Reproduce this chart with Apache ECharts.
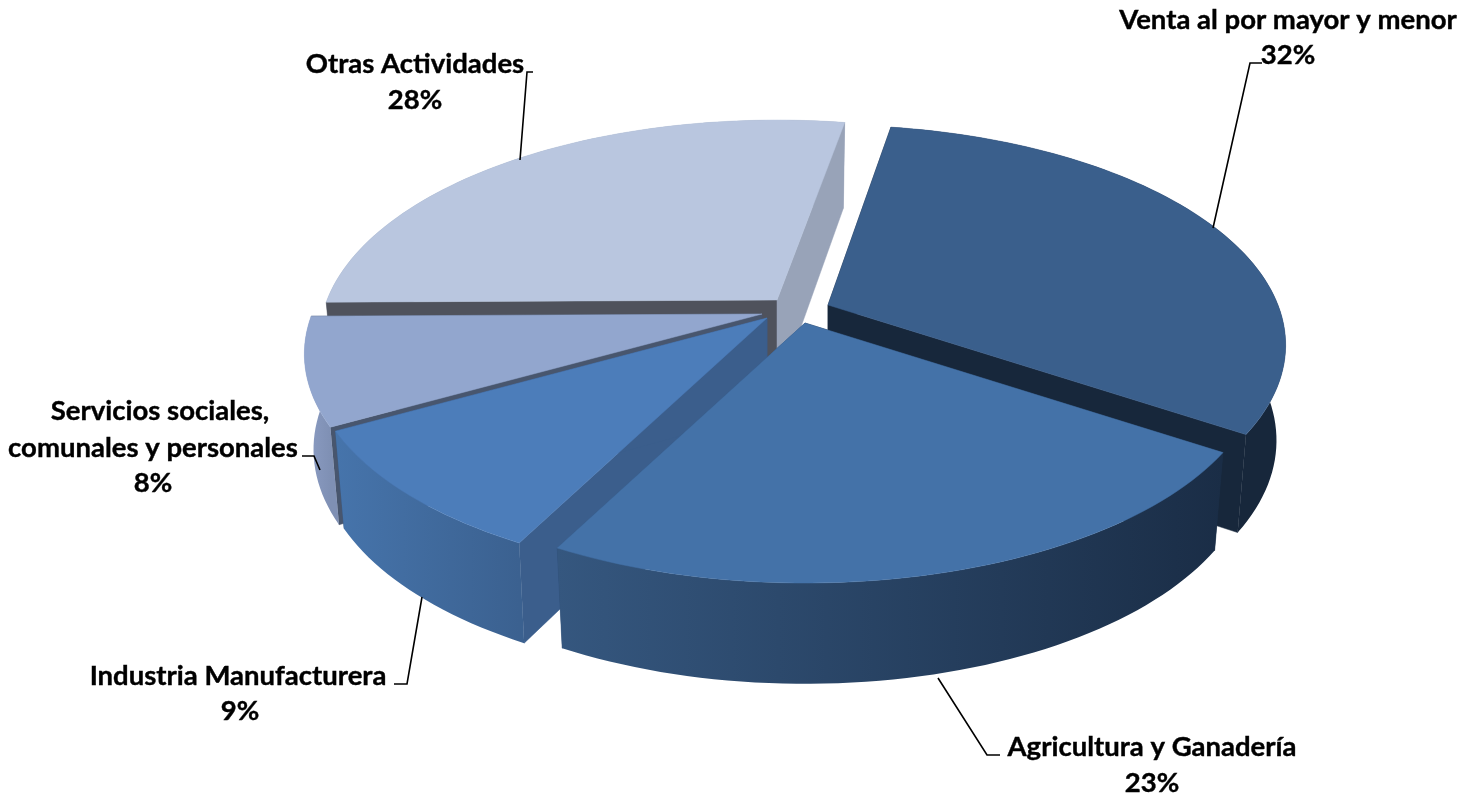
<!DOCTYPE html>
<html><head><meta charset="utf-8">
<style>html,body{margin:0;padding:0;background:#fff}#c{width:1461px;height:795px}</style>
<script src="https://cdn.jsdelivr.net/npm/echarts@6/dist/echarts.min.js"></script>
</head><body><div id="c"></div>
<script>
// data (clockwise from the start angle)
const categories = ['Venta al por mayor y menor','Agricultura y Ganadería','Industria Manufacturera','Servicios sociales, comunales y personales','Otras Actividades'];
const shares = [31.6, 23.4, 9.3, 7.9, 28.0];
// styling
const topColors = ['#3a5f8c','#4472a8','#4c7dba','#92a6ce','#b9c6df'];
const wallColors = [['#17273b','#17273b'],['#35577f','#1a2d46'],['#4674ab','#3b6190'],['#8c9dc4','#7f90b4'],['#98a3b8','#98a3b8']];
const sideStart = ['#17273b','#1b2e47','#3b5e8c','#48566e','#4f525c'];
const sideEnd = ['#17273b','#2f4f78','#3b5e8c','#48566e','#98a3b8'];
// layout
const drawOrder = [4,0,3,2,1];
const START = 9.5, R = 450, RY = 212.7, K = 0.182, SHRINK = 0.98, DEPTH = 94, DEPTH_K = 12;
const apex = [[828,305],[805,323],[767,318],[762,314],[777,300]];
const labelLines = [
  [['Venta al por mayor y menor',1288,20],['%',1288,55]],
  [['Agricultura y Ganadería',1152,747],['%',1152,783]],
  [['Industria Manufacturera',238,676],['%',240,711]],
  [['Servicios sociales,',160,411],['comunales y personales',153,448],['%',153,483]],
  [['Otras Actividades',415,64],['%',415,100]]
];
const leaders = [
  [[1213,228],[1250,63],[1262,63]],
  [[938,678],[987,755],[1000,755]],
  [[422,597],[407,684],[394,684]],
  [[302,456],[314,456],[320,470]],
  [[520,160],[527,72],[533,72]]
];

const cum = []; shares.reduce((a,v,i)=>(cum[i]=a,a+v),0);
function topPt(c,deg){const t=deg*Math.PI/180,s=1/(1+K*Math.cos(t));return [c[0]+R*Math.sin(t)*s,c[1]-RY*Math.cos(t)*s];}
function botPt(c,deg){const p=topPt(c,deg),t=deg*Math.PI/180;
  return [c[0]+SHRINK*(p[0]-c[0]),c[1]+SHRINK*(p[1]-c[1])+DEPTH-DEPTH_K*Math.cos(t)];}
function botApex(c){return [c[0],c[1]+DEPTH];}
function arc(fn,c,a,b){const n=Math.max(4,Math.ceil(Math.abs(b-a)/1.5)),o=[];for(let i=0;i<=n;i++)o.push(fn(c,a+(b-a)*i/n));return o;}

function renderItem(params,api){
  const i=api.value(1), value=api.value(0);
  const a=START+cum[i]*3.6, b=a+value*3.6, c=apex[i];
  const poly=(points,fill)=>({type:'polygon',shape:{points},style:{fill,stroke:typeof fill==='string'?fill:null,lineWidth:.5}});
  const topArc=arc(topPt,c,a,b), botArc=arc(botPt,c,a,b);
  const xs=topArc.map(p=>p[0]);
  const grad=new echarts.graphic.LinearGradient(Math.min(...xs),0,Math.max(...xs),0,
    [{offset:0,color:wallColors[i][0]},{offset:1,color:wallColors[i][1]}],true);
  const sides=[
    poly([c,topPt(c,a),botPt(c,a),botApex(c)],sideStart[i]),
    poly([c,topPt(c,b),botPt(c,b),botApex(c)],sideEnd[i])
  ];
  const wall=poly(topArc.concat(botArc.slice().reverse()),grad);
  // a wall on the far side of the pie lies behind the wedge's cut faces
  const backFacing=Math.cos((a+b)/2*Math.PI/180)>0;
  const children=(backFacing?[wall].concat(sides):sides.concat([wall])).concat([
    poly([c].concat(topArc),topColors[i]),
    {type:'polyline',shape:{points:leaders[i]},style:{fill:null,stroke:'#000',lineWidth:1.6}}
  ]);
  labelLines[i].forEach(l=>children.push({type:'text',style:{
    text:l[0]==='%'?Math.round(value)+'%':l[0],x:l[1],y:l[2],align:'center',verticalAlign:'middle',
    font:'bold 27.5px Lato, sans-serif',fill:'#000',stroke:'#000',lineWidth:.4}}));
  return {type:'group',children};
}
const chart=echarts.init(document.getElementById('c'),null,{renderer:'canvas'});
chart.setOption({animation:false,backgroundColor:'#fff',
  series:[{type:'custom',coordinateSystem:'none',renderItem,
    data:drawOrder.map(i=>({name:categories[i],value:[shares[i],i]}))}]});
</script></body></html>
